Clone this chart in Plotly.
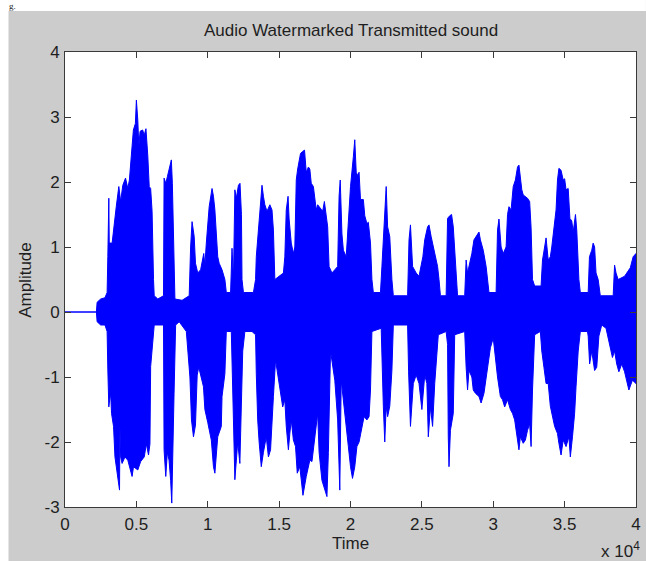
import plotly.graph_objects as go

# ---- data (time in units of 10^4 samples, amplitude) ----
upper_t = [0.00, 0.22, 0.225, 0.25, 0.28, 0.295, 0.30, 0.307, 0.31, 0.33, 0.359, 0.377, 0.39, 0.405, 0.424,
           0.44, 0.451, 0.463, 0.479, 0.493, 0.50, 0.51, 0.517, 0.526, 0.544, 0.555, 0.567, 0.58, 0.59, 0.60,
           0.61, 0.62, 0.625, 0.65, 0.69, 0.694, 0.706, 0.717, 0.729, 0.745, 0.752, 0.764, 0.77, 0.82, 0.87,
           0.88, 0.89, 0.905, 0.914, 0.93, 0.95, 0.972, 0.98, 0.99, 1.00, 1.01, 1.03, 1.04, 1.05, 1.06,
           1.07, 1.08, 1.10, 1.12, 1.13, 1.16, 1.17, 1.18, 1.19, 1.20, 1.215, 1.226, 1.236, 1.24, 1.25,
           1.32, 1.335, 1.34, 1.35, 1.366, 1.38, 1.39, 1.40, 1.415, 1.435, 1.45, 1.46, 1.47, 1.50, 1.53,
           1.54, 1.55, 1.5625, 1.57, 1.585, 1.60, 1.61, 1.62, 1.63, 1.65, 1.665, 1.678, 1.69, 1.705, 1.715,
           1.725, 1.74, 1.76, 1.77, 1.78, 1.795, 1.805, 1.817, 1.83, 1.84, 1.85, 1.87, 1.89, 1.91, 1.92,
           1.928, 1.94, 1.95, 1.97, 1.98, 1.99, 2.00, 2.02, 2.03, 2.04, 2.05, 2.06, 2.07, 2.09, 2.10,
           2.115, 2.125, 2.14, 2.15, 2.16, 2.21, 2.22, 2.235, 2.245, 2.25, 2.26, 2.275, 2.29, 2.30, 2.40,
           2.41, 2.42, 2.435, 2.46, 2.48, 2.507, 2.52, 2.54, 2.55, 2.565, 2.58, 2.60, 2.61, 2.62, 2.63,
           2.67, 2.68, 2.695, 2.708, 2.72, 2.74, 2.75, 2.80, 2.81, 2.82, 2.85, 2.865, 2.88, 2.90, 2.91,
           2.93, 2.95, 2.96, 2.97, 3.02, 3.03, 3.04, 3.055, 3.07, 3.09, 3.10, 3.11, 3.125, 3.14, 3.155,
           3.17, 3.18, 3.19, 3.20, 3.21, 3.225, 3.24, 3.255, 3.265, 3.275, 3.29, 3.335, 3.345, 3.36, 3.37,
           3.385, 3.40, 3.41, 3.426, 3.44, 3.45, 3.46, 3.475, 3.49, 3.50, 3.51, 3.525, 3.537, 3.55, 3.56,
           3.576, 3.585, 3.60, 3.61, 3.665, 3.674, 3.69, 3.70, 3.71, 3.72, 3.735, 3.75, 3.84, 3.85, 3.86,
           3.875, 3.92, 3.96, 3.98, 4.00]
upper_a = [0.0, 0.0, 0.15, 0.2, 0.22, 0.3, 0.85, 1.75, 1.06, 1.06, 1.62, 1.93, 1.7, 1.95, 2.06,
           1.9, 2.03, 2.39, 2.8, 2.9, 3.26, 2.95, 2.55, 2.78, 2.8, 2.72, 2.82, 2.4, 1.93, 1.9,
           1.55, 0.5, 0.25, 0.2, 0.25, 2.06, 1.98, 2.08, 2.21, 2.34, 1.98, 0.5, 0.2, 0.18, 0.25,
           1.0, 1.39, 1.16, 0.75, 0.6, 0.65, 0.9, 0.72, 1.06, 1.31, 1.62, 1.9, 1.78, 1.57, 1.2,
           0.85, 0.75, 0.65, 0.5, 0.3, 0.3, 0.98, 0.5, 1.88, 1.75, 1.95, 1.98, 1.5, 0.5, 0.3,
           0.3, 0.5, 0.85, 1.1, 1.5, 1.95, 1.78, 1.65, 1.55, 1.65, 1.57, 1.26, 0.5, 0.55, 0.6,
           0.85, 1.57, 1.78, 1.43, 1.06, 0.9, 1.0, 2.03, 2.2, 2.44, 2.47, 2.49, 2.15, 2.23, 2.2,
           1.98, 1.93, 1.57, 1.65, 1.62, 1.57, 1.55, 1.7, 1.5, 1.31, 0.7, 0.6, 0.65, 0.7, 1.78,
           2.03, 1.2, 0.95, 0.85, 1.26, 1.67, 1.93, 2.39, 2.65, 2.15, 2.1, 2.15, 1.73, 1.73, 1.48,
           1.36, 1.38, 1.06, 0.5, 0.3, 0.3, 0.7, 1.26, 1.62, 1.93, 1.31, 1.16, 0.5, 0.25, 0.25,
           1.11, 1.34, 0.7, 0.6, 0.55, 0.85, 1.11, 1.31, 1.34, 1.16, 1.0, 0.75, 0.7, 0.5, 0.25,
           0.25, 1.44, 1.48, 1.5, 1.31, 0.5, 0.25, 0.25, 0.8, 0.6, 0.9, 1.11, 1.16, 1.23, 1.11,
           0.95, 0.7, 0.5, 0.3, 0.3, 1.26, 1.43, 1.0, 0.9, 1.0, 1.5, 1.62, 1.57, 1.93, 2.03,
           2.23, 2.26, 2.03, 1.88, 1.8, 1.78, 1.75, 1.7, 1.3, 0.5, 0.4, 0.4, 0.8, 1.0, 1.14,
           0.8, 0.85, 1.0, 1.36, 1.57, 2.03, 2.21, 2.18, 2.03, 2.05, 1.88, 1.9, 1.44, 1.4, 1.23,
           1.5, 1.26, 0.5, 0.3, 0.3, 0.85, 0.95, 1.06, 1.0, 0.6, 0.5, 0.25, 0.25, 0.72, 0.6,
           0.5, 0.55, 0.68, 0.85, 0.9]

lower_t = [0.00, 0.22, 0.225, 0.25, 0.28, 0.295, 0.30, 0.307, 0.31, 0.32, 0.326, 0.34, 0.35, 0.382, 0.385,
           0.39, 0.40, 0.42, 0.44, 0.47, 0.48, 0.51, 0.53, 0.555, 0.57, 0.585, 0.595, 0.60, 0.61, 0.625,
           0.69, 0.694, 0.706, 0.717, 0.729, 0.74, 0.748, 0.757, 0.764, 0.775, 0.80, 0.85, 0.86, 0.875, 0.886,
           0.90, 0.914, 0.926, 0.937, 0.955, 0.97, 0.98, 1.00, 1.025, 1.04, 1.05, 1.06, 1.07, 1.095, 1.10,
           1.12, 1.13, 1.165, 1.17, 1.18, 1.19, 1.20, 1.21, 1.225, 1.236, 1.245, 1.26, 1.31, 1.335, 1.34,
           1.35, 1.36, 1.375, 1.39, 1.41, 1.425, 1.44, 1.46, 1.475, 1.49, 1.50, 1.525, 1.54, 1.55, 1.565,
           1.575, 1.585, 1.60, 1.615, 1.627, 1.645, 1.667, 1.69, 1.715, 1.73, 1.75, 1.77, 1.78, 1.80, 1.835,
           1.845, 1.86, 1.875, 1.89, 1.91, 1.925, 1.935, 1.95, 1.965, 1.985, 2.00, 2.014, 2.03, 2.045, 2.06,
           2.075, 2.095, 2.115, 2.13, 2.14, 2.15, 2.215, 2.22, 2.23, 2.24, 2.25, 2.26, 2.275, 2.29, 2.30,
           2.40, 2.407, 2.42, 2.44, 2.46, 2.48, 2.50, 2.52, 2.535, 2.545, 2.56, 2.575, 2.59, 2.60, 2.615,
           2.67, 2.68, 2.685, 2.69, 2.70, 2.72, 2.73, 2.80, 2.81, 2.82, 2.83, 2.85, 2.86, 2.875, 2.90,
           2.915, 2.935, 2.955, 2.98, 3.00, 3.03, 3.05, 3.065, 3.08, 3.10, 3.12, 3.135, 3.15, 3.17, 3.18,
           3.19, 3.21, 3.225, 3.24, 3.255, 3.265, 3.275, 3.29, 3.33, 3.34, 3.355, 3.37, 3.385, 3.40, 3.42,
           3.43, 3.45, 3.46, 3.475, 3.49, 3.51, 3.53, 3.54, 3.555, 3.57, 3.58, 3.595, 3.61, 3.66, 3.665,
           3.675, 3.69, 3.71, 3.725, 3.74, 3.76, 3.79, 3.81, 3.835, 3.85, 3.865, 3.88, 3.90, 3.92, 3.935,
           3.95, 3.975, 4.00]
lower_a = [0.0, 0.0, -0.15, -0.2, -0.2, -0.3, -0.89, -1.46, -1.40, -1.25, -1.56, -1.76, -2.23, -2.74, -1.76,
           -2.23, -2.33, -2.23, -2.28, -2.53, -2.38, -2.43, -2.30, -2.23, -2.03, -2.2, -2.03, -0.84, -0.53, -0.2,
           -0.2, -2.12, -2.53, -2.16, -2.28, -2.59, -2.94, -2.0, -1.25, -0.2, -0.15, -0.3, -0.6, -1.0, -1.66,
           -1.92, -1.74, -0.97, -0.85, -1.0, -1.15, -1.5, -1.7, -1.97, -2.38, -2.48, -2.16, -1.92, -1.76, -1.3,
           -0.95, -0.3, -0.3, -0.8, -1.66, -2.58, -2.28, -2.0, -2.33, -1.5, -0.6, -0.3, -0.3, -0.35, -0.95,
           -1.66, -2.0, -2.38, -2.16, -1.92, -2.23, -2.12, -1.3, -0.74, -0.95, -1.1, -1.46, -1.35, -1.76, -2.12,
           -1.87, -1.66, -1.97, -2.07, -2.48, -2.38, -2.82, -2.53, -2.28, -2.3, -1.92, -1.56, -2.16, -2.59, -2.84,
           -2.16, -0.6, -0.8, -1.05, -1.66, -2.74, -1.05, -1.4, -1.66, -2.07, -2.38, -2.56, -2.38, -2.07, -2.0,
           -1.87, -1.61, -1.66, -1.61, -1.2, -0.3, -0.25, -0.8, -1.45, -2.0, -1.45, -1.61, -1.45, -0.9, -0.2,
           -0.2, -0.92, -1.76, -1.1, -0.97, -1.1, -1.5, -0.97, -1.1, -1.92, -1.46, -1.76, -1.1, -0.82, -0.35,
           -0.3, -0.5, -1.92, -2.38, -1.82, -1.56, -0.35, -0.3, -0.85, -1.2, -0.9, -1.0, -1.2, -1.25, -1.3,
           -1.4, -1.25, -0.9, -0.55, -0.4, -1.0, -1.3, -1.35, -1.46, -1.35, -1.5, -1.56, -1.66, -1.97, -2.12,
           -1.92, -2.02, -1.97, -1.82, -1.72, -2.07, -1.2, -0.35, -0.3, -0.6, -0.85, -1.1, -1.1, -1.45, -1.66,
           -1.76, -1.87, -2.02, -2.2, -1.97, -2.07, -1.92, -2.23, -1.92, -1.56, -1.15, -0.6, -0.3, -0.3, -0.37,
           -0.8, -0.6, -0.9, -0.85, -0.37, -0.2, -0.25, -0.45, -0.7, -0.6, -0.8, -0.92, -0.8, -0.92, -1.05,
           -1.2, -1.05, -1.1]

x_tick_vals = [0, 5000, 10000, 15000, 20000, 25000, 30000, 35000, 40000]
x_tick_text = ["0", "0.5", "1", "1.5", "2", "2.5", "3", "3.5", "4"]
y_tick_vals = [-3, -2, -1, 0, 1, 2, 3, 4]
y_tick_text = ["-3", "-2", "-1", "0", "1", "2", "3", "4"]

SCALE = 10000
poly_x = [t * SCALE for t in upper_t] + [t * SCALE for t in reversed(lower_t)]
poly_y = list(upper_a) + list(reversed(lower_a))

BLUE = "#0000ff"
TXT = "#1e1e1e"
AX = "#3a3a3a"
FONT = "Liberation Sans, Arial, sans-serif"
FS = 17

fig = go.Figure()
fig.add_trace(go.Scatter(
    x=poly_x, y=poly_y, mode="lines", fill="toself",
    fillcolor=BLUE, line=dict(color=BLUE, width=1),
    hoverinfo="skip", showlegend=False))

W, H = 646, 561
L, R, T, B = 65, 5, 52, 54
pw, ph = W - L - R, H - T - B

def px_x(p):
    return (p - L) / pw

def px_y(p):
    return (H - B - p) / ph

fig.update_layout(
    width=W, height=H,
    margin=dict(l=L, r=R, t=T, b=B, pad=0),
    paper_bgcolor="#cccccc",
    plot_bgcolor="white",
    font=dict(family=FONT, size=FS, color=TXT),
    showlegend=False,
    xaxis=dict(range=[0, 40000], tickvals=x_tick_vals, ticktext=x_tick_text,
               showline=True, linecolor=AX, linewidth=1, mirror="ticks",
               ticks="inside", ticklen=6, tickcolor=AX, tickwidth=1,
               showgrid=False, zeroline=False, ticklabelstandoff=2,
               tickfont=dict(family=FONT, size=FS, color=TXT)),
    yaxis=dict(range=[-3, 4], tickvals=y_tick_vals, ticktext=y_tick_text,
               showline=True, linecolor=AX, linewidth=1, mirror="ticks",
               ticks="inside", ticklen=6, tickcolor=AX, tickwidth=1,
               showgrid=False, zeroline=False, ticklabelstandoff=1,
               tickfont=dict(family=FONT, size=FS, color=TXT)),
    shapes=[
        dict(type="rect", xref="paper", yref="paper", x0=px_x(-5), x1=px_x(W + 5),
             y0=px_y(11), y1=px_y(-5), fillcolor="white", line=dict(width=0), layer="below"),
        dict(type="rect", xref="paper", yref="paper", x0=px_x(-5), x1=px_x(8),
             y0=px_y(H + 5), y1=px_y(-5), fillcolor="white", line=dict(width=0), layer="below"),
    ],
    annotations=[
        dict(text="Audio Watermarked Transmitted sound", xref="paper", yref="paper",
             x=0.5, y=px_y(31), xanchor="center", yanchor="middle", showarrow=False,
             font=dict(family=FONT, size=FS, color=TXT)),
        dict(text="Amplitude", xref="paper", yref="paper", x=px_x(25), y=0.5,
             xanchor="center", yanchor="middle", textangle=-90, showarrow=False,
             font=dict(family=FONT, size=FS, color=TXT)),
        dict(text="Time", xref="paper", yref="paper", x=0.5, y=px_y(543),
             xanchor="center", yanchor="middle", showarrow=False,
             font=dict(family=FONT, size=FS, color=TXT)),
        dict(text="x 10<sup>4</sup>", xref="paper", yref="paper", x=px_x(647), y=px_y(550),
             xanchor="right", yanchor="middle", showarrow=False,
             font=dict(family=FONT, size=FS, color=TXT)),
        dict(text="g.", xref="paper", yref="paper", x=px_x(12), y=px_y(0),
             xanchor="center", yanchor="top", showarrow=False, borderpad=0,
             font=dict(family="Liberation Serif, serif", size=9, color="#222222")),
    ],
)

fig.write_html("out.html")
